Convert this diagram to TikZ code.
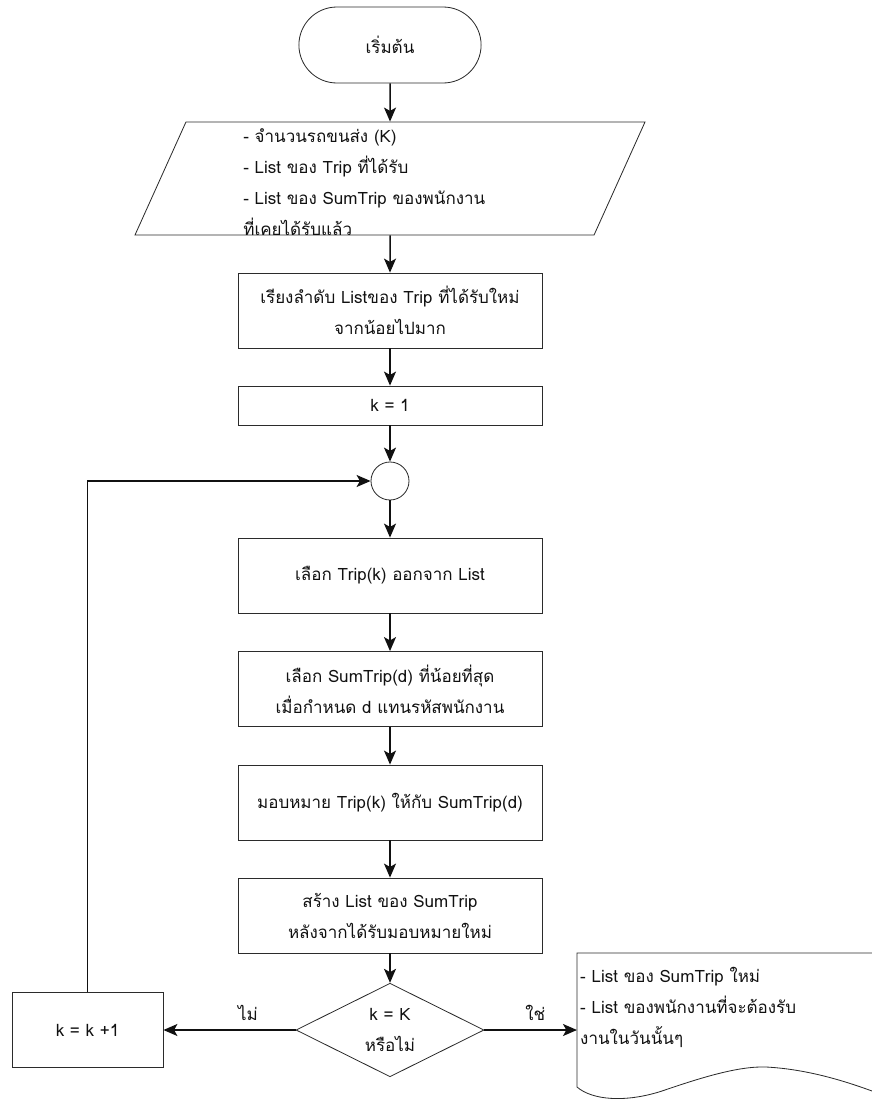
\documentclass[tikz,border=0pt]{standalone}
\usepackage{fontspec}
\setmainfont[Script=Thai]{Loma}
\usepackage{tikz}
\usetikzlibrary{arrows.meta, positioning, calc, shapes.geometric, shapes.misc}
\definecolor{ink}  {HTML}{111111}
\definecolor{frame}{HTML}{2B2B2B}

\tikzset{
  txt/.style={font=\fontsize{14.5pt}{26.5pt}\selectfont, text=ink},
  procbox/.style={txt, draw=frame, line width=0.7pt, rectangle,
    minimum width=91.2mm, minimum height=22.5mm, align=center, inner sep=0pt},
  termbox/.style={txt, draw=frame, line width=0.7pt, rounded rectangle,
    minimum width=57mm, minimum height=22.8mm},
  iobox/.style={txt, draw=frame, line width=0.7pt, trapezium,
    trapezium left angle=63, trapezium right angle=117, trapezium stretches body,
    minimum width=153mm, minimum height=33.9mm, inner sep=0pt},
  joinpt/.style={draw=frame, line width=0.7pt, circle, minimum size=11.4mm, inner sep=0pt},
  decbox/.style={txt, draw=frame, line width=0.7pt, diamond,
    minimum width=56.4mm, minimum height=22.8mm, inner sep=0pt, align=center},
  flow/.style={draw=ink, line width=1.3pt, -{Stealth[length=4.2mm, width=3.6mm, inset=1mm]}},
}

\begin{document}
\begin{tikzpicture}[x=0.3mm, y=-0.3mm]
  \useasboundingbox (0,0) rectangle (872,1101);

  \node[termbox] (start) at (390,45) {เริ่มต้น};
  \node[iobox] (inp) at (390,178.5)
    {\parbox[c][30mm][c]{88mm}{\raggedright\vspace*{2mm}
      - จำนวนรถขนส่ง (K)\\- List ของ Trip ที่ได้รับ\\- List ของ SumTrip ของพนักงาน\\ที่เคยได้รับแล้ว}};
  \node[procbox] (sort) at (390,310.5)
    {เรียงลำดับ Listของ Trip ที่ได้รับใหม่\\จากน้อยไปมาก};
  \node[procbox, minimum height=11.7mm] (init) at (390,405.5) {k = 1};
  \node[joinpt] (join) at (390,481) {};
  \node[procbox] (pick) at (390,575.5) {เลือก Trip(k) ออกจาก List};
  \node[procbox] (least) at (390,689)
    {เลือก SumTrip(d) ที่น้อยที่สุด\\เมื่อกำหนด d แทนรหัสพนักงาน};
  \node[procbox] (assign) at (390,802.5) {มอบหมาย Trip(k) ให้กับ SumTrip(d)};
  \node[procbox] (build) at (390,915.5)
    {สร้าง List ของ SumTrip\\หลังจากได้รับมอบหมายใหม่};
  \node[decbox] (check) at (390,1030) {k = K\\หรือไม่};
  \node[procbox, minimum width=45.3mm] (incr) at (87.5,1030) {k = k +1};

  % output document, its right side runs off the page
  \coordinate (docw) at (577,1030);
  \draw[frame, line width=0.7pt] (872,953) -- (577,953) -- (577,1087)
    .. controls (592,1100) and (625,1103) .. (662,1091)
    .. controls (700,1078) and (738,1066) .. (766,1067)
    .. controls (805,1069) and (842,1080) .. (872,1091);
  \node[txt, anchor=north west, align=left, inner sep=0pt] (out) at (580,967)
    {- List ของ SumTrip ใหม่\\- List ของพนักงานที่จะต้องรับ\\งานในวันนั้นๆ};

  \draw[flow] (start) -- (inp);
  \draw[flow] (inp) -- (sort);
  \draw[flow] (sort) -- (init);
  \draw[flow] (init) -- (join);
  \draw[flow] (join) -- (pick);
  \draw[flow] (pick) -- (least);
  \draw[flow] (least) -- (assign);
  \draw[flow] (assign) -- (build);
  \draw[flow] (build) -- (check);
  \draw[flow] (check) -- node[txt, pos=0.36, above=2.5mm, inner sep=0pt] {ไม่} (incr);
  \draw[flow] (check) -- node[txt, pos=0.55, above=2.5mm, inner sep=0pt] {ใช่} (docw);
  \draw[flow] (incr.north) |- (join.west);
\end{tikzpicture}
\end{document}
